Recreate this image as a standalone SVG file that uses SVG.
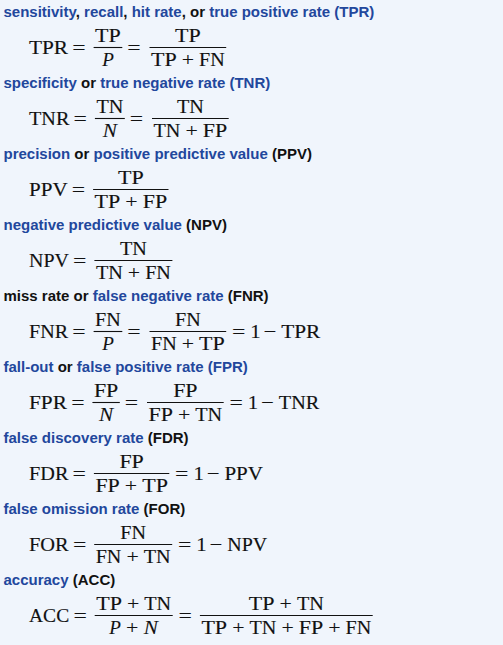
<svg xmlns="http://www.w3.org/2000/svg" width="503" height="645" viewBox="0 0 503 645">
<style>
.h{font-family:"Liberation Sans",Arial,sans-serif;font-size:15px;font-weight:bold}
.b{fill:#22479c}
.k{fill:#111}
.m{font-family:"Liberation Serif","Times New Roman",serif;font-size:19px;fill:#111;stroke:#111;stroke-width:0.15}
.o{font-family:"Liberation Serif","Times New Roman",serif;font-size:19px;fill:#111;stroke:#111;stroke-width:0.1;text-anchor:middle}
.i{font-style:italic}
.bar{stroke:#111;stroke-width:1.1}
</style>
<rect width="503" height="645" fill="#f0f5fc"/>

<g id="tpr">
<text class="h" x="3.5" y="16.5"><tspan class="b">sensitivity</tspan><tspan class="k">, </tspan><tspan class="b">recall</tspan><tspan class="k">, </tspan><tspan class="b">hit rate</tspan><tspan class="k">, or </tspan><tspan class="b">true positive rate (TPR)</tspan></text>
<text class="m" x="29" y="54" textLength="39.1" lengthAdjust="spacingAndGlyphs">TPR</text>
<text class="o" transform="translate(79 54) scale(1.25 1)">=</text>
<line class="bar" x1="93.6" y1="47.5" x2="122.3" y2="47.5"/>
<text class="m" x="95.1" y="41.5" textLength="25.7" lengthAdjust="spacingAndGlyphs">TP</text>
<text class="o i" x="107.95" y="66">P</text>
<text class="o" transform="translate(134 54) scale(1.25 1)">=</text>
<line class="bar" x1="149.5" y1="47.5" x2="226.2" y2="47.5"/>
<text class="m" x="175" y="41.5" textLength="25.7" lengthAdjust="spacingAndGlyphs">TP</text>
<text class="m" x="151" y="66" textLength="25.7" lengthAdjust="spacingAndGlyphs">TP</text>
<text class="o" transform="translate(187.9 66) scale(1.15 1)">+</text>
<text class="m" x="199.1" y="66" textLength="25.7" lengthAdjust="spacingAndGlyphs">FN</text>
</g>

<g id="tnr">
<text class="h" x="3.5" y="87.5"><tspan class="b">specificity</tspan><tspan class="k"> or </tspan><tspan class="b">true negative rate (TNR)</tspan></text>
<text class="m" x="29" y="125" textLength="40.4" lengthAdjust="spacingAndGlyphs">TNR</text>
<text class="o" transform="translate(80.3 125) scale(1.25 1)">=</text>
<line class="bar" x1="94.9" y1="118.5" x2="124.8" y2="118.5"/>
<text class="m" x="96.4" y="112.5" textLength="26.9" lengthAdjust="spacingAndGlyphs">TN</text>
<text class="o i" transform="translate(109.85 137) scale(1.12 1)">N</text>
<text class="o" transform="translate(136.5 125) scale(1.25 1)">=</text>
<line class="bar" x1="152" y1="118.5" x2="228.7" y2="118.5"/>
<text class="m" x="176.9" y="112.5" textLength="26.9" lengthAdjust="spacingAndGlyphs">TN</text>
<text class="m" x="153.5" y="137" textLength="26.9" lengthAdjust="spacingAndGlyphs">TN</text>
<text class="o" transform="translate(191.6 137) scale(1.15 1)">+</text>
<text class="m" x="202.8" y="137" textLength="24.4" lengthAdjust="spacingAndGlyphs">FP</text>
</g>

<g id="ppv">
<text class="h" x="3.5" y="158.5"><tspan class="b">precision</tspan><tspan class="k"> or </tspan><tspan class="b">positive predictive value</tspan><tspan class="k"> (PPV)</tspan></text>
<text class="m" x="29" y="196" textLength="38.6" lengthAdjust="spacingAndGlyphs">PPV</text>
<text class="o" transform="translate(78.5 196) scale(1.25 1)">=</text>
<line class="bar" x1="93.1" y1="189.5" x2="168.5" y2="189.5"/>
<text class="m" x="117.95" y="183.5" textLength="25.7" lengthAdjust="spacingAndGlyphs">TP</text>
<text class="m" x="94.6" y="208" textLength="25.7" lengthAdjust="spacingAndGlyphs">TP</text>
<text class="o" transform="translate(131.5 208) scale(1.15 1)">+</text>
<text class="m" x="142.7" y="208" textLength="24.4" lengthAdjust="spacingAndGlyphs">FP</text>
</g>

<g id="npv">
<text class="h" x="3.5" y="229.5"><tspan class="b">negative predictive value</tspan><tspan class="k"> (NPV)</tspan></text>
<text class="m" x="29" y="267" textLength="39.9" lengthAdjust="spacingAndGlyphs">NPV</text>
<text class="o" transform="translate(79.8 267) scale(1.25 1)">=</text>
<line class="bar" x1="94.4" y1="260.5" x2="172.4" y2="260.5"/>
<text class="m" x="119.95" y="254.5" textLength="26.9" lengthAdjust="spacingAndGlyphs">TN</text>
<text class="m" x="95.9" y="279" textLength="26.9" lengthAdjust="spacingAndGlyphs">TN</text>
<text class="o" transform="translate(134 279) scale(1.15 1)">+</text>
<text class="m" x="145.2" y="279" textLength="25.7" lengthAdjust="spacingAndGlyphs">FN</text>
</g>

<g id="fnr">
<text class="h" x="3.5" y="300.5"><tspan class="k">miss rate or </tspan><tspan class="b">false negative rate</tspan><tspan class="k"> (FNR)</tspan></text>
<text class="m" x="29" y="338" textLength="39.1" lengthAdjust="spacingAndGlyphs">FNR</text>
<text class="o" transform="translate(79 338) scale(1.25 1)">=</text>
<line class="bar" x1="93.6" y1="331.5" x2="122.3" y2="331.5"/>
<text class="m" x="95.1" y="325.5" textLength="25.7" lengthAdjust="spacingAndGlyphs">FN</text>
<text class="o i" x="107.95" y="350">P</text>
<text class="o" transform="translate(134 338) scale(1.25 1)">=</text>
<line class="bar" x1="149.5" y1="331.5" x2="226.2" y2="331.5"/>
<text class="m" x="175" y="325.5" textLength="25.7" lengthAdjust="spacingAndGlyphs">FN</text>
<text class="m" x="151" y="350" textLength="25.7" lengthAdjust="spacingAndGlyphs">FN</text>
<text class="o" transform="translate(187.9 350) scale(1.15 1)">+</text>
<text class="m" x="199.1" y="350" textLength="25.7" lengthAdjust="spacingAndGlyphs">TP</text>
<text class="o" transform="translate(238.6 338) scale(1.25 1)">=</text>
<text class="o" transform="translate(255.5 338) scale(1.1 1)">1</text>
<text class="o" transform="translate(270 338) scale(1.2 1)">−</text>
<text class="m" x="281.2" y="338" textLength="39.1" lengthAdjust="spacingAndGlyphs">TPR</text>
</g>

<g id="fpr">
<text class="h" x="3.5" y="371.5"><tspan class="b">fall-out</tspan><tspan class="k"> or </tspan><tspan class="b">false positive rate (FPR)</tspan></text>
<text class="m" x="29" y="409" textLength="37.9" lengthAdjust="spacingAndGlyphs">FPR</text>
<text class="o" transform="translate(78 409) scale(1.25 1)">=</text>
<line class="bar" x1="92.4" y1="402.5" x2="119.8" y2="402.5"/>
<text class="m" x="93.9" y="396.5" textLength="24.4" lengthAdjust="spacingAndGlyphs">FP</text>
<text class="o i" transform="translate(106.1 421) scale(1.12 1)">N</text>
<text class="o" transform="translate(131.5 409) scale(1.25 1)">=</text>
<line class="bar" x1="147" y1="402.5" x2="223.7" y2="402.5"/>
<text class="m" x="173.15" y="396.5" textLength="24.4" lengthAdjust="spacingAndGlyphs">FP</text>
<text class="m" x="148.5" y="421" textLength="24.4" lengthAdjust="spacingAndGlyphs">FP</text>
<text class="o" transform="translate(184.1 421) scale(1.15 1)">+</text>
<text class="m" x="195.3" y="421" textLength="26.9" lengthAdjust="spacingAndGlyphs">TN</text>
<text class="o" transform="translate(236.1 409) scale(1.25 1)">=</text>
<text class="o" transform="translate(253 409) scale(1.1 1)">1</text>
<text class="o" transform="translate(267.5 409) scale(1.2 1)">−</text>
<text class="m" x="278.8" y="409" textLength="40.4" lengthAdjust="spacingAndGlyphs">TNR</text>
</g>

<g id="fdr">
<text class="h" x="3.5" y="442.5"><tspan class="b">false discovery rate</tspan><tspan class="k"> (FDR)</tspan></text>
<text class="m" x="29" y="480" textLength="39.4" lengthAdjust="spacingAndGlyphs">FDR</text>
<text class="o" transform="translate(79.3 480) scale(1.25 1)">=</text>
<line class="bar" x1="93.9" y1="473.5" x2="169.3" y2="473.5"/>
<text class="m" x="119.4" y="467.5" textLength="24.4" lengthAdjust="spacingAndGlyphs">FP</text>
<text class="m" x="95.4" y="492" textLength="24.4" lengthAdjust="spacingAndGlyphs">FP</text>
<text class="o" transform="translate(131 492) scale(1.15 1)">+</text>
<text class="m" x="142.2" y="492" textLength="25.7" lengthAdjust="spacingAndGlyphs">TP</text>
<text class="o" transform="translate(181.7 480) scale(1.25 1)">=</text>
<text class="o" transform="translate(198.6 480) scale(1.1 1)">1</text>
<text class="o" transform="translate(213.1 480) scale(1.2 1)">−</text>
<text class="m" x="224.4" y="480" textLength="38.6" lengthAdjust="spacingAndGlyphs">PPV</text>
</g>

<g id="for">
<text class="h" x="3.5" y="513.5"><tspan class="b">false omission rate</tspan><tspan class="k"> (FOR)</tspan></text>
<text class="m" x="29" y="551" textLength="39.7" lengthAdjust="spacingAndGlyphs">FOR</text>
<text class="o" transform="translate(79.6 551) scale(1.25 1)">=</text>
<line class="bar" x1="94.2" y1="544.5" x2="172.2" y2="544.5"/>
<text class="m" x="120.35" y="538.5" textLength="25.7" lengthAdjust="spacingAndGlyphs">FN</text>
<text class="m" x="95.7" y="563" textLength="25.7" lengthAdjust="spacingAndGlyphs">FN</text>
<text class="o" transform="translate(132.6 563) scale(1.15 1)">+</text>
<text class="m" x="143.8" y="563" textLength="26.9" lengthAdjust="spacingAndGlyphs">TN</text>
<text class="o" transform="translate(184.6 551) scale(1.25 1)">=</text>
<text class="o" transform="translate(201.5 551) scale(1.1 1)">1</text>
<text class="o" transform="translate(216 551) scale(1.2 1)">−</text>
<text class="m" x="227.3" y="551" textLength="39.9" lengthAdjust="spacingAndGlyphs">NPV</text>
</g>

<g id="acc">
<text class="h" x="3.5" y="584.5"><tspan class="b">accuracy</tspan><tspan class="k"> (ACC)</tspan></text>
<text class="m" x="29" y="622" textLength="40.2" lengthAdjust="spacingAndGlyphs">ACC</text>
<text class="o" transform="translate(80.1 622) scale(1.25 1)">=</text>
<line class="bar" x1="94.7" y1="615.5" x2="172.7" y2="615.5"/>
<text class="m" x="96.2" y="609.5" textLength="25.7" lengthAdjust="spacingAndGlyphs">TP</text>
<text class="o" transform="translate(133.1 609.5) scale(1.15 1)">+</text>
<text class="m" x="144.3" y="609.5" textLength="26.9" lengthAdjust="spacingAndGlyphs">TN</text>
<text class="o i" x="115.15" y="634">P</text>
<text class="o" transform="translate(132.2 634) scale(1.15 1)">+</text>
<text class="o i" transform="translate(150.75 634) scale(1.12 1)">N</text>
<text class="o" transform="translate(185.2 622) scale(1.25 1)">=</text>
<line class="bar" x1="199.9" y1="615.5" x2="372.7" y2="615.5"/>
<text class="m" x="248.8" y="609.5" textLength="25.7" lengthAdjust="spacingAndGlyphs">TP</text>
<text class="o" transform="translate(285.7 609.5) scale(1.15 1)">+</text>
<text class="m" x="296.9" y="609.5" textLength="26.9" lengthAdjust="spacingAndGlyphs">TN</text>
<text class="m" x="201.4" y="634" textLength="25.7" lengthAdjust="spacingAndGlyphs">TP</text>
<text class="o" transform="translate(238.3 634) scale(1.15 1)">+</text>
<text class="m" x="249.5" y="634" textLength="26.9" lengthAdjust="spacingAndGlyphs">TN</text>
<text class="o" transform="translate(287.6 634) scale(1.15 1)">+</text>
<text class="m" x="298.8" y="634" textLength="24.4" lengthAdjust="spacingAndGlyphs">FP</text>
<text class="o" transform="translate(334.4 634) scale(1.15 1)">+</text>
<text class="m" x="345.6" y="634" textLength="25.7" lengthAdjust="spacingAndGlyphs">FN</text>
</g>
<g id="connectors"/>
</svg>
